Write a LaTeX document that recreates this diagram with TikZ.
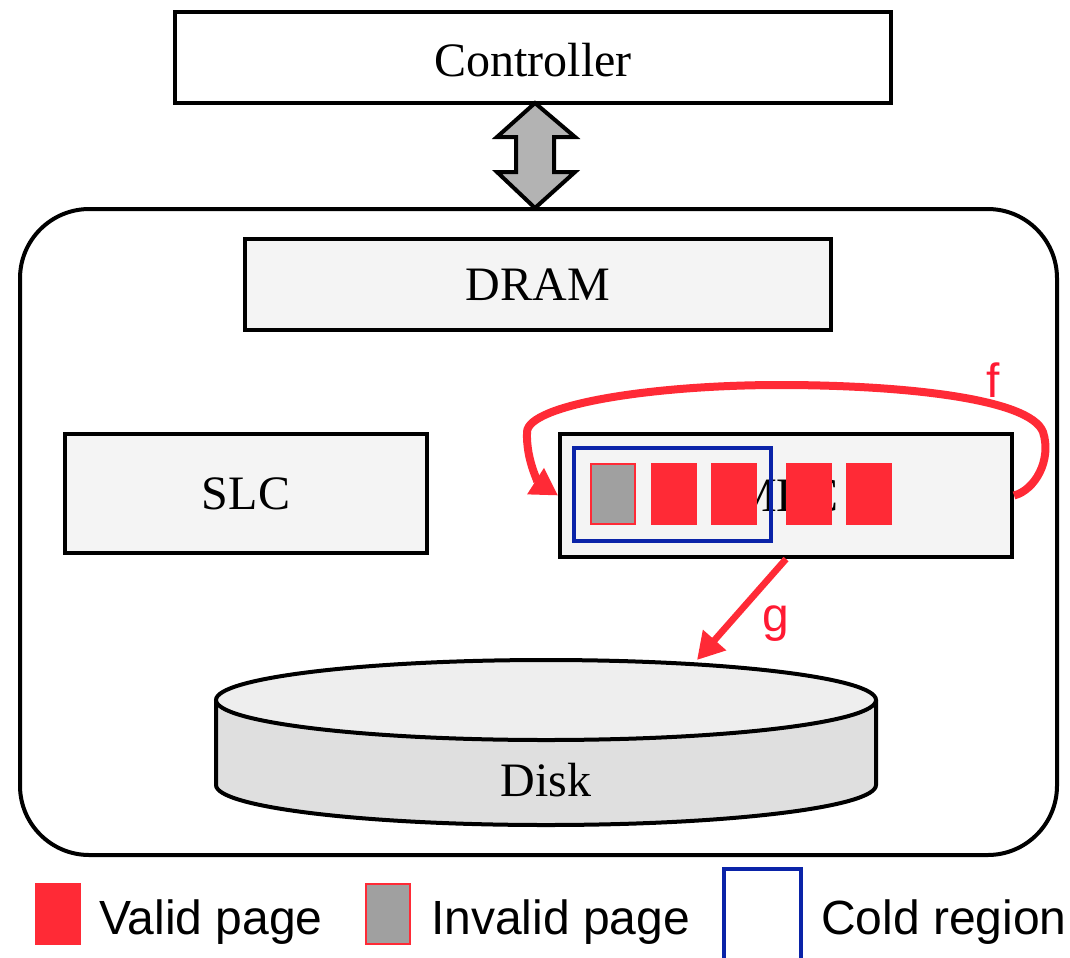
\documentclass[tikz,border=0pt]{standalone}
\usepackage{fontspec}
\setmainfont{Liberation Serif}
\newfontfamily\arial{Liberation Sans}
\usetikzlibrary{arrows.meta}
\definecolor{pagered}{HTML}{FF2A36}
\definecolor{labred}{HTML}{FF1A33}
\definecolor{coldblue}{HTML}{0A23A8}
\definecolor{boxfill}{HTML}{F4F4F4}
\definecolor{invgray}{HTML}{A0A0A0}
\definecolor{disktop}{HTML}{EEEEEE}
\definecolor{diskside}{HTML}{DFDFDF}
\definecolor{arrgray}{HTML}{B3B3B3}
\tikzset{
  box/.style={draw=black, line width=3pt, fill=boxfill, inner sep=0pt, font=\fontsize{36}{40}\selectfont},
  valid/.style={fill=pagered, draw=none, minimum width=34.5pt, minimum height=46.5pt, inner sep=0pt},
  invalid/.style={fill=invgray, draw=pagered, line width=1.5pt, minimum width=33pt, minimum height=45pt, inner sep=0pt},
  coldbox/.style={draw=coldblue, line width=2.6pt, inner sep=0pt},
  redarrow/.style={draw=pagered, line width=6pt, -{Triangle[length=20pt,width=22pt]}},
  redlab/.style={text=labred, font=\arial\fontsize{36}{40}\selectfont},
  legtext/.style={anchor=west, font=\arial\fontsize{36}{40}\selectfont, inner sep=0pt}
}
\begin{document}
\begin{tikzpicture}[x=0.75pt,y=-0.75pt]
\useasboundingbox (0,0) rectangle (1070,957);
\fill[white] (0,0) rectangle (1070,957);
% outer box
\node[draw=black, line width=3pt, rounded corners=52pt, minimum width=777.75pt, minimum height=484.5pt, inner sep=0pt] (outer) at (538.5,532) {};
% controller
\node[box, fill=white, minimum width=537pt, minimum height=68.25pt] (ctrl) at (533,57.5) {};
\node[font=\fontsize{36}{40}\selectfont] (ctrltext) at (533,60) {Controller};
% double arrow
\draw[line width=3pt, fill=arrgray, line join=miter]
  (535,103) -- (575,137) -- (554,137) -- (554,172) -- (575,172) -- (535,208)
  -- (497,172) -- (516,172) -- (516,137) -- (497,137) -- cycle;
% DRAM
\node[box, minimum width=439.5pt, minimum height=68.25pt] (dram) at (538,284.5) {DRAM};
% SLC
\node[box, minimum width=271.5pt, minimum height=89.25pt] (slc) at (246,493.5) {SLC};
% MLC
\node[box, minimum width=339pt, minimum height=92.25pt] (mlc) at (786,495.5) {MLC};
% cold region
\node[coldbox, minimum width=147.75pt, minimum height=69.75pt] (cold) at (672.5,494.5) {};
% pages
\node[invalid] (p1) at (613,494) {};
\node[valid] (p2) at (673.5,494) {};
\node[valid] (p3) at (733.5,494) {};
\node[valid] (p4) at (808.5,494) {};
\node[valid] (p5) at (868.5,494) {};
% f loop
\draw[redarrow] (mlc.east) .. controls (1035,490) and (1052,460) .. (1043,432)
  .. controls (1030,398) and (900,385) .. (780,385)
  .. controls (650,385) and (528,405) .. (527,432)
  .. controls (526,462) and (540,484) .. (mlc.west);
\node[redlab] (flab) at (993,380) {f};
% disk
\fill[diskside] (216,700) -- (216,785) arc[start angle=180, end angle=0, x radius=330, y radius=40] -- (876,700) -- cycle;
\draw[line width=3pt] (216,700) -- (216,785) arc[start angle=180, end angle=0, x radius=330, y radius=40] -- (876,700);
\draw[line width=3pt, fill=disktop] (546,700) ellipse[x radius=330, y radius=40];
\node[font=\fontsize{36}{40}\selectfont] (disk) at (546,780) {Disk};
% g arrow
\coordinate (gtip) at (697,660);
\draw[redarrow, line width=5pt] (mlc.south) -- (gtip);
\node[redlab] (glab) at (776,624) {g};
% legend
\node[valid, minimum height=46.5pt] (lv) at (58,914) {};
\node[legtext] (lvt) at (99,922) {Valid page};
\node[invalid] (li) at (388,914) {};
\node[legtext] (lit) at (431,922) {Invalid page};
\draw[coldblue, line width=2.6pt] (724,990) -- (724,869) -- (801,869) -- (801,990);
\node[legtext] (lct) at (821,922) {Cold region};
\end{tikzpicture}
\end{document}
